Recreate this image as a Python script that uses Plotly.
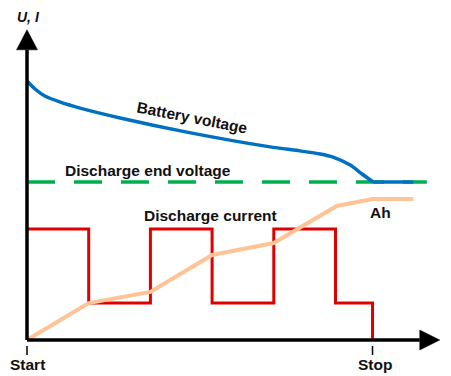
import plotly.graph_objects as go

# --- data (time in arbitrary units, Start = 0; values in arbitrary units) ---
t_start = 0.0
t_stop = 5.6

# pulsed discharge current (step changes)
current_t = [0.0, 1.0, 2.0, 3.0, 4.0, 5.0, 5.6]
current_val = [3.6, 1.2, 3.6, 1.2, 3.6, 1.2, 0.0]

# battery voltage under load (last point = flat tail after reaching end voltage)
voltage_t = [0.0, 0.13, 0.29, 0.53, 0.86, 1.51, 2.59, 3.94, 4.42, 4.75, 4.96, 5.24, 5.43, 5.61, 6.26]
voltage_val = [8.41, 8.15, 7.92, 7.73, 7.53, 7.21, 6.75, 6.27, 6.14, 6.04, 5.94, 5.68, 5.39, 5.13, 5.13]

# discharge end voltage threshold
end_voltage = 5.13
end_voltage_t = [0.0, 6.48]

# accumulated charge (Ah)
ah_t = [0.0, 1.0, 2.0, 3.0, 4.0, 5.02, 5.6, 6.26]
ah_val = [0.0, 1.2, 1.56, 2.76, 3.15, 4.35, 4.58, 4.58]

# axis extents
x_axis_end = 6.69
y_axis_end = 10.07

# --- page geometry ---
W, H = 451, 376
PX_X = 61.7       # pixels per time unit
PX_Y = 30.8       # pixels per value unit
ORIGIN_PX = (27, 340)
x_range = [-ORIGIN_PX[0] / PX_X, (W - ORIGIN_PX[0]) / PX_X]
y_range = [-(H - ORIGIN_PX[1]) / PX_Y, ORIGIN_PX[1] / PX_Y]

FONT = "Liberation Sans, Arial, Helvetica, sans-serif"
BLUE = "#0070C0"
GREEN = "#00B050"
RED = "#E00000"
PEACH = "#FFC396"

fig = go.Figure()

fig.add_trace(go.Scatter(
    x=end_voltage_t, y=[end_voltage] * len(end_voltage_t), mode="lines",
    line=dict(color=GREEN, width=3.5, dash="28px,19px"), hoverinfo="skip"))

# curved discharge part is smoothed, the flat tail is drawn straight
knee = len(voltage_t) - 1
fig.add_trace(go.Scatter(
    x=voltage_t[:knee], y=voltage_val[:knee], mode="lines",
    line=dict(color=BLUE, width=3.5, shape="spline", smoothing=0.6), hoverinfo="skip"))
fig.add_trace(go.Scatter(
    x=voltage_t[knee - 1:], y=voltage_val[knee - 1:], mode="lines",
    line=dict(color=BLUE, width=3.5), hoverinfo="skip"))

fig.add_trace(go.Scatter(
    x=current_t, y=current_val, mode="lines",
    line=dict(color=RED, width=3, shape="hv"), hoverinfo="skip"))

fig.add_trace(go.Scatter(
    x=ah_t, y=ah_val, mode="lines",
    line=dict(color=PEACH, width=4), hoverinfo="skip"))

# axes with arrow heads
ah_len_x = 20 / PX_X
ah_half_x = 10 / PX_Y
ah_len_y = 20 / PX_Y
ah_half_y = 10.5 / PX_X
shapes = [
    dict(type="line", x0=t_start, y0=0, x1=x_axis_end - ah_len_x, y1=0,
         line=dict(color="black", width=3.5), layer="above"),
    dict(type="line", x0=t_start, y0=0, x1=t_start, y1=y_axis_end - ah_len_y,
         line=dict(color="black", width=3.5), layer="above"),
    dict(type="path",
         path=f"M {x_axis_end - ah_len_x} {-ah_half_x} L {x_axis_end} 0 L {x_axis_end - ah_len_x} {ah_half_x} Z",
         fillcolor="black", line=dict(color="black", width=0.5), layer="above"),
    dict(type="path",
         path=f"M {t_start - ah_half_y} {y_axis_end - ah_len_y} L {t_start} {y_axis_end} L {t_start + ah_half_y} {y_axis_end - ah_len_y} Z",
         fillcolor="black", line=dict(color="black", width=0.5), layer="above"),
]
for t in (t_start, t_stop):
    shapes.append(dict(type="line", x0=t, x1=t, y0=-6 / PX_Y, y1=-15 / PX_Y,
                       line=dict(color="black", width=1.5)))

def label(text, x, y, size=15.5, angle=0):
    return dict(text=text, x=x, y=y, xref="x", yref="y", showarrow=False,
                xanchor="center", yanchor="middle", textangle=angle,
                font=dict(family=FONT, size=size, color="#111111", weight="bold"))

annotations = [
    label("<i>U, I</i>", 0.03, 10.49, size=14),
    label("Battery voltage", 2.674, 7.21, angle=11),
    label("Discharge end voltage", 1.96, 5.49),
    label("Discharge current", 2.966, 4.03),
    label("Ah", 5.737, 4.14),
    label("Start", t_start + 0.016, -0.78),
    label("Stop", t_stop + 0.04, -0.78),
]

fig.update_layout(
    width=W, height=H, autosize=False,
    margin=dict(l=0, r=0, t=0, b=0, pad=0),
    paper_bgcolor="white", plot_bgcolor="white",
    showlegend=False,
    xaxis=dict(range=x_range, visible=False, fixedrange=True),
    yaxis=dict(range=y_range, visible=False, fixedrange=True),
    shapes=shapes, annotations=annotations,
)

fig.write_html("out.html", config={"displayModeBar": False})
